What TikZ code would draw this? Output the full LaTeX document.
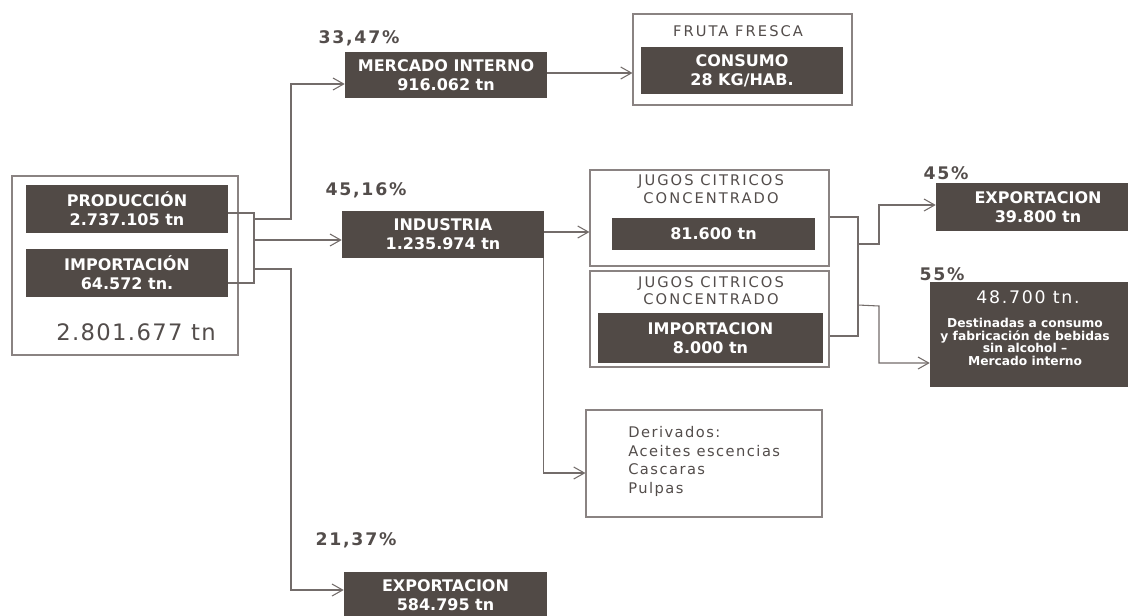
\documentclass[tikz,border=0pt]{standalone}
\usepackage{fontspec}
\setmainfont{DejaVu Sans}
\newfontfamily\spaced[LetterSpace=14]{DejaVu Sans}
\newfontfamily\derfont[LetterSpace=10]{DejaVu Sans}
\newfontfamily\pctfont[LetterSpace=10]{DejaVu Sans}
\newfontfamily\totfont[LetterSpace=6]{DejaVu Sans}
\usetikzlibrary{arrows.meta,calc}
\definecolor{boxfill}{HTML}{514A46}
\definecolor{linegray}{HTML}{736C6A}
\definecolor{framegray}{HTML}{8A8382}
\definecolor{txtgray}{HTML}{534D4B}
\begin{document}
\begin{tikzpicture}[x=0.75pt,y=-0.75pt,
  box/.style 2 args={minimum width=#1*0.75pt, minimum height=#2*0.75pt},
  darktext/.style={text=white, inner sep=0pt, align=center,
    font=\bfseries\fontsize{12}{14.5}\selectfont},
  dark/.style={fill=boxfill, darktext},
  frame/.style={draw=framegray, line width=0.8pt, fill=white, inner sep=0pt},
  title/.style={text=txtgray, align=center, inner sep=0pt,
    font=\spaced\fontsize{11}{13}\selectfont},
  pct/.style={text=txtgray, inner sep=0pt, font=\pctfont\bfseries\fontsize{13}{15}\selectfont},
  conn/.style={draw=linegray, line width=0.8pt},
  arr/.style={conn, -{Straight Barb[length=8pt,width=9pt,line width=0.8pt]}}]
\useasboundingbox (0,0) rectangle (1130,615);

% ---------- left block ----------
\node[frame, box={226}{179}] (src) at (125,265.5) {};
\node[dark, box={202}{48}] (prod) at (127,209) {PRODUCCIÓN\\2.737.105 tn};
\node[dark, box={202}{48}] (imp) at (127,273) {IMPORTACIÓN\\64.572 tn.};
\node[text=txtgray, inner sep=0pt, font=\totfont\fontsize{17}{19}\selectfont] (tot) at (136,332) {2.801.677 tn};

% ---------- mercado interno ----------
\node[pct] (p1) at (359,38) {33,47\%};
\node[dark, box={202}{46}] (merc) at (446,75) {MERCADO INTERNO\\916.062 tn};
\node[frame, box={219}{91}] (fruta) at (742.5,59.5) {};
\node[title] (frutat) at (738,31) {FRUTA FRESCA};
\node[dark, box={202}{47}] (cons) at (742,70.5) {CONSUMO\\28 KG/HAB.};

% ---------- industria ----------
\node[pct] (p2) at (366,190) {45,16\%};
\node[dark, box={202}{47}] (ind) at (443,234.5) {INDUSTRIA\\1.235.974 tn};

\node[frame, box={239}{96}] (jug1) at (709.5,218) {};
\node[title] (jug1t) at (711,189) {JUGOS CITRICOS\\CONCENTRADO};
\node[dark, box={203}{32}] (j1in) at (713.5,234) {81.600 tn};

\node[frame, box={239}{96}] (jug2) at (709.5,319) {};
\node[title] (jug2t) at (711,290.5) {JUGOS CITRICOS\\CONCENTRADO};
\node[dark, box={225}{50}] (j2in) at (710.5,338) {IMPORTACION\\8.000 tn};

\node[pct] (p3) at (946,173) {45\%};
\node[fill=boxfill, inner sep=0pt, box={192}{48}] (exp2) at (1032,207) {};
\node[darktext] (exp2t) at (1038,207) {EXPORTACION\\39.800 tn};
\node[pct] (p4) at (942,274) {55\%};
\node[fill=boxfill, inner sep=0pt, box={198}{105}] (dest) at (1029,334.5) {};
\node[text=white, inner sep=0pt, font=\pctfont\fontsize{13}{15}\selectfont] (destt) at (1028,297) {48.700 tn.};
\node[text=white, inner sep=0pt, align=center, font=\bfseries\fontsize{9.2}{9.4}\selectfont] (destd) at (1025,342) {Destinadas a consumo\\y fabricación de bebidas\\sin alcohol –\\Mercado interno};

\node[frame, box={236}{107}] (deriv) at (704,463.5) {};
\node[text=txtgray, inner sep=0pt, align=left, anchor=north west,
  font=\derfont\fontsize{11}{14}\selectfont] (derivt) at (628,426) {Derivados:\\Aceites escencias\\Cascaras\\Pulpas};

% ---------- exportacion ----------
\node[pct] (p5) at (356,540) {21,37\%};
\node[dark, box={203}{46}] (exp1) at (445.5,595) {EXPORTACION\\584.795 tn};

% ---------- connectors ----------
\coordinate (busT) at (254,213);
\coordinate (busB) at (254,283);
\coordinate (b1) at (254,219);
\coordinate (b2) at (254,240);
\coordinate (b3) at (254,269);
\draw[conn] ($(prod.east)+(0,4)$) -- (busT) -- (busB) -- ($(imp.east)+(0,10)$);
\draw[arr] (b1) -- ++(37,0) |- ($(merc.west)+(0,9)$);
\draw[arr] (b2) -- ($(ind.west)+(0,5.5)$);
\draw[arr] (b3) -- ++(37,0) |- ($(exp1.west)+(0,-5)$);

\draw[arr] ($(merc.east)+(0,-2)$) -- ($(fruta.west)+(0,13.5)$);
\draw[arr] ($(ind.east)+(0,-2.5)$) -- ($(jug1.west)+(0,14)$);
\draw[arr] ($(ind.south east)+(-1,0)$) |- ($(deriv.west)+(0,9.5)$);

\coordinate (rbT) at (858,217);
\coordinate (rbB) at (858,336);
\coordinate (r1) at (858,244);
\coordinate (r2) at (858,305);
\draw[conn] ($(jug1.east)+(0,-1)$) -- (rbT) -- (rbB) -- ($(jug2.east)+(0,17)$);
\draw[arr] (r1) -- ++(21,0) |- ($(exp2.west)+(0,-2)$);
\draw[arr] (r2) -- ++(21,1) |- ($(dest.west)+(0,28.5)$);
\end{tikzpicture}
\end{document}
